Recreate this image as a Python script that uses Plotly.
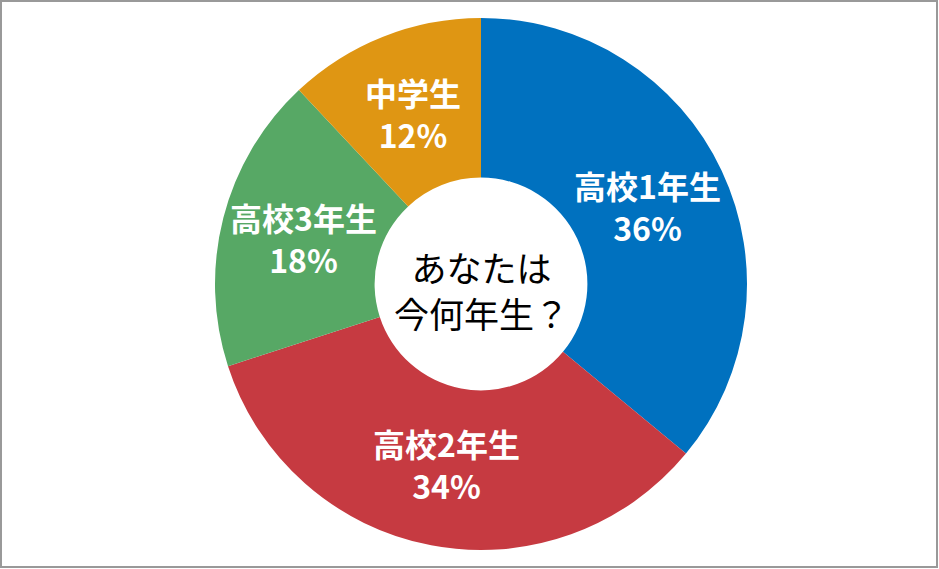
import numpy as np
import plotly.graph_objects as go

# data
labels = ['高校1年生', '高校2年生', '高校3年生', '中学生']
values = [36, 34, 18, 12]
colors = ['#0071BF', '#C63A41', '#57A865', '#DF9613']
center_text = 'あなたは<br>今何年生？'

W, H = 939, 569
m = dict(l=215, r=192, t=18, b=19)
pw = W - m['l'] - m['r']
ph = H - m['t'] - m['b']
HOLE = 0.40

fig = go.Figure(go.Pie(
    labels=labels, values=values,
    marker=dict(colors=colors, line=dict(width=0)),
    hole=HOLE, sort=False, direction='clockwise', rotation=0,
    textinfo='none', hoverinfo='label+percent', showlegend=False,
))

# slice labels, placed at the middle of each ring segment (like Excel does)
total = sum(values)
cum = np.cumsum([0] + values[:-1])
r_txt = 0.5 * 0.69
for lab, v, c0 in zip(labels, values, cum):
    ang = 2 * np.pi * (c0 + v / 2) / total
    fig.add_annotation(
        text=f'{lab}<br>{v}%', x=0.5 + r_txt * np.sin(ang), y=0.5 + r_txt * np.cos(ang),
        xref='paper', yref='paper', xanchor='center', yanchor='middle', showarrow=False,
        font=dict(family='Noto Sans CJK JP', size=32, color='white', weight='bold'),
    )

fig.add_annotation(
    text=center_text, x=0.5, y=0.49, xref='paper', yref='paper',
    xanchor='center', yanchor='middle', showarrow=False,
    font=dict(family='Noto Sans CJK JP', size=35, color='black'),
)

# outer frame
fig.add_shape(
    type='rect', xref='paper', yref='paper',
    x0=(1 - m['l']) / pw, x1=1 + (m['r'] - 2) / pw,
    y0=-(m['b'] - 2) / ph, y1=1 + (m['t'] - 1) / ph,
    line=dict(color='#999999', width=2),
)

fig.update_layout(
    width=W, height=H, margin=m,
    paper_bgcolor='white', plot_bgcolor='white',
)

fig.write_html('out.html', config={'displayModeBar': False},
               post_script="document.body.style.margin='0';")
